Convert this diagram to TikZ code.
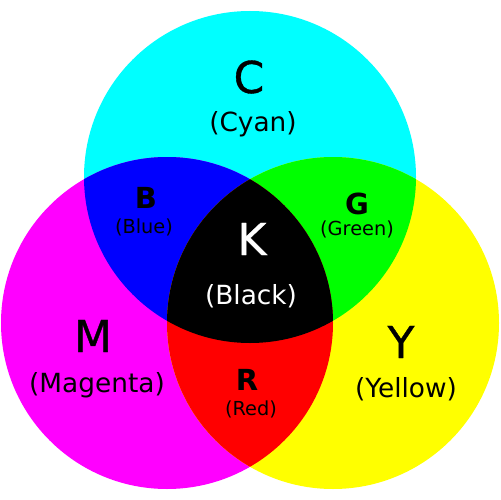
\documentclass[tikz,border=0pt]{standalone}
\usepackage{fontspec}
\setmainfont{DejaVu Sans}
\newfontfamily\heavyfont[FakeBold=0.8]{DejaVu Sans}
\definecolor{cC}{RGB}{0,255,255}
\definecolor{cM}{RGB}{255,0,255}
\definecolor{cY}{RGB}{255,255,0}
\definecolor{cB}{RGB}{0,0,255}
\definecolor{cG}{RGB}{0,255,0}
\definecolor{cR}{RGB}{255,0,0}
\begin{document}
\begin{tikzpicture}[x=0.02cm,y=-0.02cm,
  big/.style={anchor=base,inner sep=0pt,font=\heavyfont\fontsize{25}{30}\selectfont},
  sub/.style={anchor=base,inner sep=0pt,font=\fontsize{15}{18}\selectfont},
  mid/.style={anchor=base,inner sep=0pt,font=\bfseries\fontsize{16.5}{20}\selectfont},
  small/.style={anchor=base,inner sep=0pt,font=\fontsize{11}{13}\selectfont}]
\useasboundingbox (0,0) rectangle (500,500);
\fill[white] (0,0) rectangle (500,500);
\coordinate (Cc) at (250,177);
\coordinate (Mc) at (167,323);
\coordinate (Yc) at (333,323);
\fill[cC] (Cc) circle[radius=166];
\fill[cM] (Mc) circle[radius=166];
\fill[cY] (Yc) circle[radius=166];
\begin{scope}
  \clip (Cc) circle[radius=166];
  \fill[cB] (Mc) circle[radius=166];
  \fill[cG] (Yc) circle[radius=166];
\end{scope}
\begin{scope}
  \clip (Mc) circle[radius=166];
  \fill[cR] (Yc) circle[radius=166];
\end{scope}
\begin{scope}
  \clip (Mc) circle[radius=166];
  \clip (Yc) circle[radius=166];
  \fill[black] (Cc) circle[radius=166];
\end{scope}
\node[big] (C) at (249,93) {C};
\node[sub] (Cs) at (253,132) {(Cyan)};
\node[big,text=white] (K) at (252,255) {K};
\node[sub,text=white] (Ks) at (251,304) {(Black)};
\node[big] (M) at (93,352) {M};
\node[sub] (Ms) at (97,392) {(Magenta)};
\node[big] (Y) at (401,358) {Y};
\node[sub] (Ys) at (406,397) {(Yellow)};
\node[mid] (B) at (146,208) {B};
\node[small] (Bs) at (144,233) {(Blue)};
\node[mid] (G) at (357,214) {G};
\node[small] (Gs) at (357,235) {(Green)};
\node[mid] (R) at (247,390) {R};
\node[small] (Rs) at (251,415) {(Red)};
\end{tikzpicture}
\end{document}
